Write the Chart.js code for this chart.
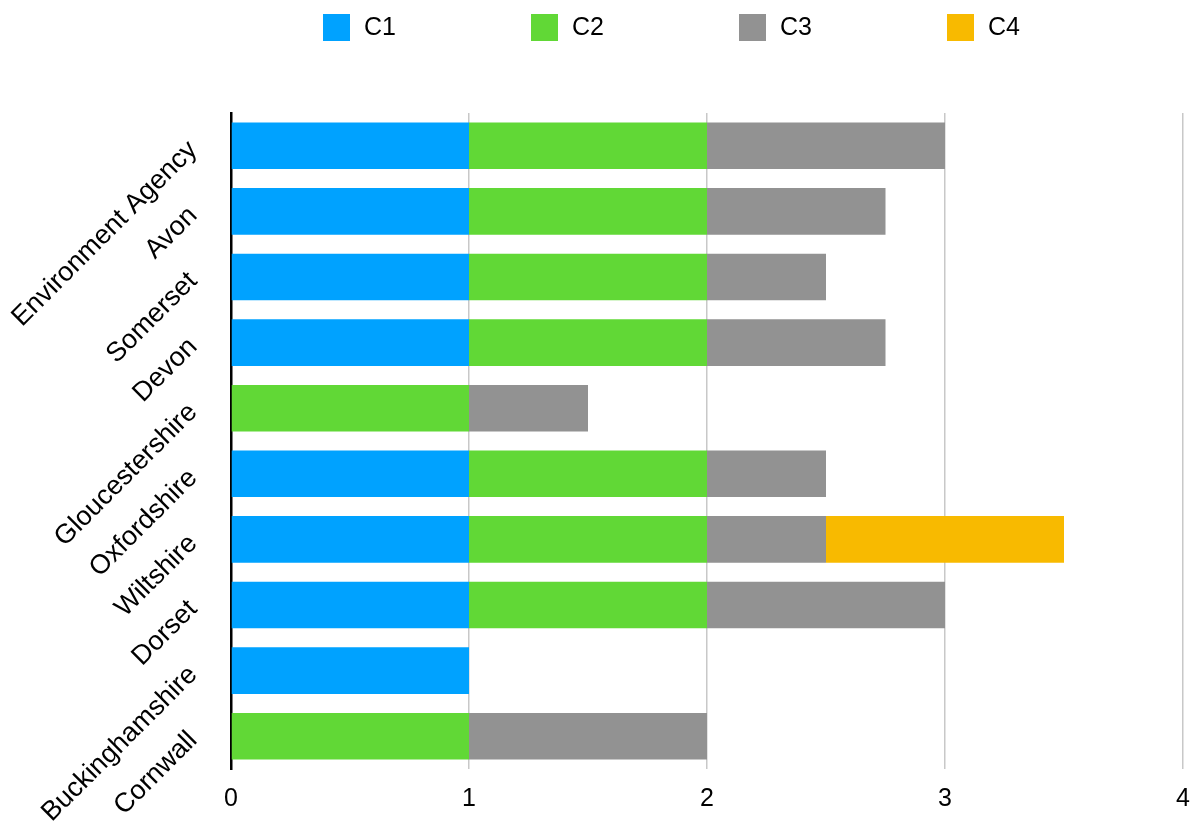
<!DOCTYPE html>
<html lang="en">
<head>
  <meta charset="UTF-8">
  <title>C1-C4 by area</title>
  <script src="https://cdn.jsdelivr.net/npm/chart.js"></script>
  <style>
    body { margin: 0; background: #fff; }
    canvas { display: block; }
  </style>
</head>
<body>
  <canvas id="chart" width="1195" height="821"></canvas>
  <script>
    const areas = ['Environment Agency', 'Avon', 'Somerset', 'Devon', 'Gloucestershire',
                   'Oxfordshire', 'Wiltshire', 'Dorset', 'Buckinghamshire', 'Cornwall'];
    const c1 = [1, 1, 1, 1, 0, 1, 1, 1, 1, 0];
    const c2 = [1, 1, 1, 1, 1, 1, 1, 1, 0, 1];
    const c3 = [1, 0.75, 0.5, 0.75, 0.5, 0.5, 0.5, 1, 0, 1];
    const c4 = [0, 0, 0, 0, 0, 0, 1, 0, 0, 0];
    const seriesNames = ['C1', 'C2', 'C3', 'C4'];
    const colors = ['#00A2FF', '#61D836', '#929292', '#F8BA00'];

    const FONT = '"Liberation Sans", Helvetica, Arial, sans-serif';

    // legend drawn by hand so the spacing matches the original
    const wideLegend = {
      id: 'wideLegend',
      afterDraw(chart) {
        const c = chart.ctx;
        c.save();
        c.font = '25px ' + FONT;
        c.textBaseline = 'middle';
        c.textAlign = 'left';
        chart.data.datasets.forEach((ds, i) => {
          const x = 323 + i * 208;
          c.fillStyle = ds.backgroundColor;
          c.fillRect(x, 14, 27, 27);
          c.fillStyle = '#000';
          c.fillText(ds.label, x + 41, 28);
        });
        c.restore();
      }
    };

    const ctx = document.getElementById('chart').getContext('2d');
    const values = [c1, c2, c3, c4];

    new Chart(ctx, {
      type: 'bar',
      data: {
        labels: areas,
        datasets: seriesNames.map((name, i) => ({
          label: name,
          data: values[i],
          backgroundColor: colors[i],
          borderWidth: 0,
          barPercentage: 0.71,
          categoryPercentage: 1
        }))
      },
      plugins: [wideLegend],
      options: {
        indexAxis: 'y',
        responsive: false,
        animation: false,
        layout: { padding: { top: 113, right: 12, bottom: 0, left: 0 } },
        plugins: {
          legend: { display: false },
          tooltip: { enabled: false }
        },
        scales: {
          x: {
            stacked: true,
            min: 0,
            max: 4,
            ticks: { stepSize: 1, color: '#000', padding: 0, font: { size: 25, family: FONT } },
            // invisible ticks give the label gap without widening the right padding
            grid: { color: '#c8c8c8', lineWidth: 1.5, drawTicks: true, tickLength: 15.5, tickColor: 'rgba(0,0,0,0)' },
            border: { display: false },
            afterFit: s => { s.height = 52; }
          },
          y: {
            stacked: true,
            ticks: {
              color: '#000',
              padding: 38,
              minRotation: 45,
              maxRotation: 45,
              autoSkip: false,
              font: { size: 27, family: FONT }
            },
            grid: { display: false, drawTicks: false },
            border: { display: true, color: '#000', width: 2.5 },
            afterFit: s => {
              s.width = 231;
              s.paddingTop = 0;
              s.paddingBottom = 0;
            }
          }
        }
      }
    });
  </script>
</body>
</html>
